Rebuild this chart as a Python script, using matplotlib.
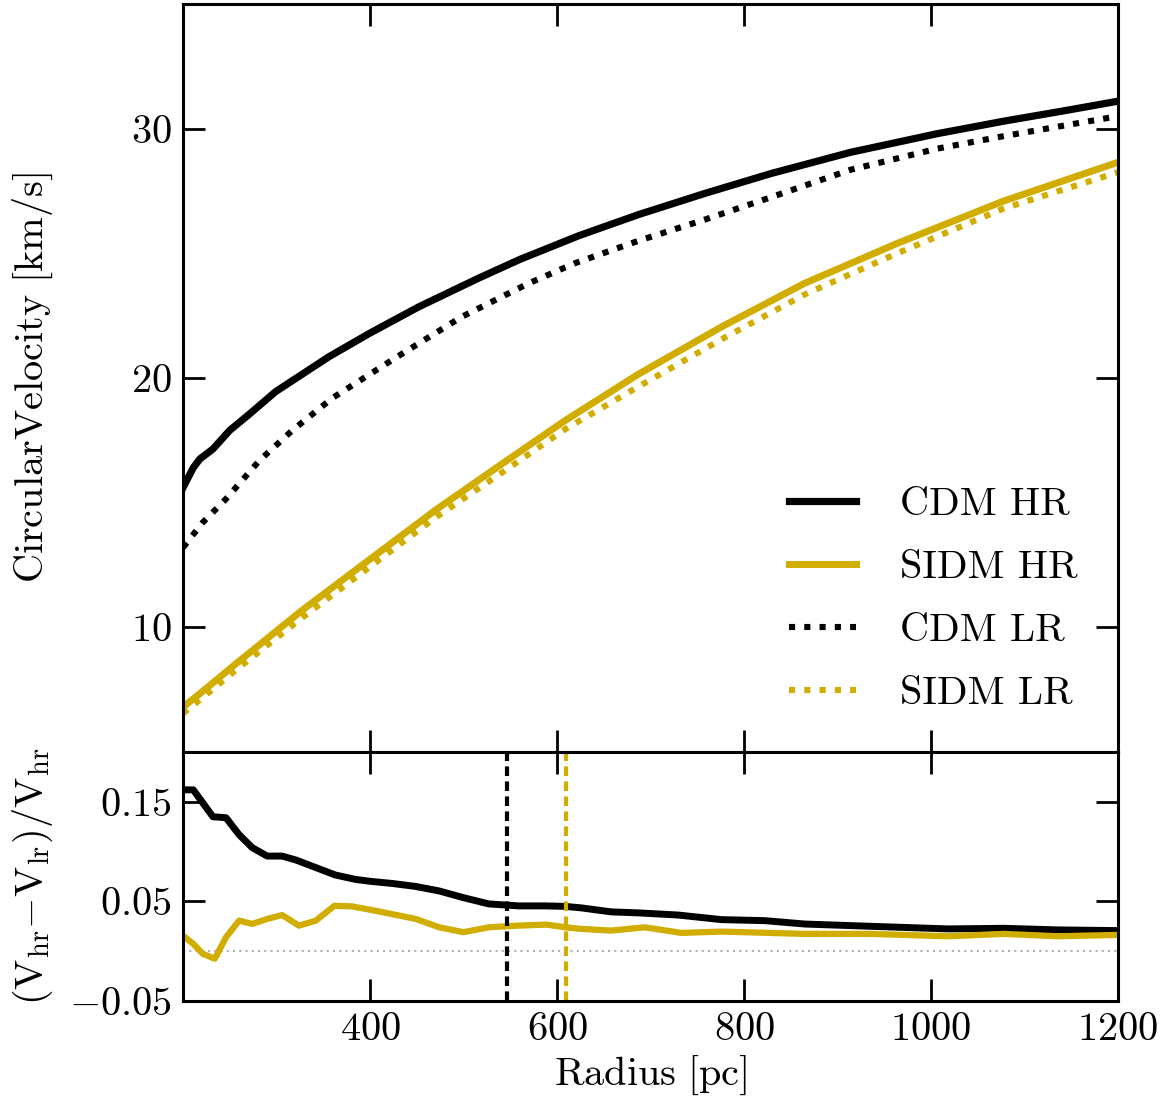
import matplotlib
matplotlib.use('Agg')
import matplotlib.pyplot as plt

plt.rcParams['mathtext.fontset'] = 'cm'
plt.rcParams['font.family'] = 'serif'
plt.rcParams['font.serif'] = ['cmr10', 'DejaVu Serif']
plt.rcParams['axes.formatter.use_mathtext'] = True

GOLD = '#D1AD00'

# circular velocity curves [km/s] vs radius [pc]
r_cdm_hr = [200, 211, 218, 232, 250, 271, 299, 356, 400, 452, 516, 560, 623, 687, 758, 829, 914, 1007, 1078, 1140, 1200]
v_cdm_hr = [15.6, 16.4, 16.75, 17.15, 17.9, 18.55, 19.45, 20.85, 21.8, 22.85, 24.0, 24.75, 25.7, 26.55, 27.4, 28.2, 29.05, 29.8, 30.3, 30.7, 31.1]

r_cdm_lr = [200, 221, 246, 282, 317, 360, 427, 498, 570, 619, 687, 758, 829, 914, 1007, 1078, 1200]
v_cdm_lr = [13.2, 14.2, 15.15, 16.7, 17.9, 19.2, 20.8, 22.45, 23.8, 24.6, 25.5, 26.35, 27.25, 28.35, 29.2, 29.7, 30.5]

r_sidm = [200, 220, 257, 328, 399, 470, 541, 609, 687, 776, 865, 964, 1078, 1200]
v_sidm_hr = [6.8, 7.4, 8.55, 10.7, 12.7, 14.7, 16.55, 18.3, 20.15, 22.05, 23.8, 25.4, 27.1, 28.65]
v_sidm_lr = [6.55, 7.15, 8.3, 10.4, 12.4, 14.4, 16.2, 17.95, 19.65, 21.55, 23.35, 25.0, 26.8, 28.25]

# relative difference (V_hr - V_lr) / V_hr
r_res_cdm = [200, 211, 232, 246, 260, 274, 290, 306, 321, 342, 363, 385, 402, 424, 449, 474, 499, 527,
             559, 587, 609, 626, 658, 687, 730, 776, 822, 865, 936, 1018, 1078, 1135, 1200]
res_cdm = [0.162, 0.162, 0.135, 0.134, 0.117, 0.104, 0.0955, 0.0955, 0.0915, 0.084, 0.0765, 0.072, 0.070,
           0.068, 0.065, 0.0605, 0.054, 0.0475, 0.0455, 0.0455, 0.045, 0.0435, 0.0395, 0.0385, 0.0363,
           0.0317, 0.0307, 0.0273, 0.025, 0.0224, 0.023, 0.0214, 0.0207]

r_res_sidm = [200, 211, 221, 234, 246, 260, 274, 290, 306, 324, 342, 362, 381, 406, 449, 474, 500, 527,
              559, 589, 609, 626, 658, 694, 733, 776, 865, 936, 1018, 1078, 1135, 1200]
res_sidm = [0.0157, 0.0074, -0.0025, -0.0075, 0.014, 0.0307, 0.0274, 0.0324, 0.0363, 0.0257, 0.0307,
            0.0456, 0.045, 0.0406, 0.0324, 0.024, 0.0191, 0.024, 0.0257, 0.0267, 0.024, 0.0224, 0.0207,
            0.024, 0.0184, 0.0197, 0.0174, 0.0174, 0.015, 0.0174, 0.015, 0.0164]

# resolution limits [pc]
rconv_cdm = 547
rconv_sidm = 610

xticks = [400, 600, 800, 1000, 1200]
yticks_top = [10, 20, 30]
yticks_res = [-0.05, 0.05, 0.15]
yticklabels_res = [r'$-0.05$', r'$0.05$', r'$0.15$']

fig = plt.figure(figsize=(11.7, 11.01), dpi=100)
ax1 = fig.add_axes([0.1564, 0.3170, 0.7991, 0.6794])
ax2 = fig.add_axes([0.1564, 0.0908, 0.7991, 0.2262])

dot = (0, (1, 1.5))
ax1.plot(r_cdm_hr, v_cdm_hr, color='black', lw=5.2, label='CDM HR')
ax1.plot(r_sidm, v_sidm_hr, color=GOLD, lw=5, label='SIDM HR')
ax1.plot(r_cdm_lr, v_cdm_lr, color='black', lw=4.4, ls=dot, label='CDM LR')
ax1.plot(r_sidm, v_sidm_lr, color=GOLD, lw=4.4, ls=dot, label='SIDM LR')

ax2.axhline(0, color='#b0b0b0', lw=1.5, ls=(0, (1, 2)))
ax2.plot(r_res_cdm, res_cdm, color='black', lw=5)
ax2.plot(r_res_sidm, res_sidm, color=GOLD, lw=4.5)
ax2.axvline(rconv_cdm, color='black', lw=3, ls=(0, (2.3, 1.3)))
ax2.axvline(rconv_sidm, color=GOLD, lw=3, ls=(0, (2.3, 1.3)))

for ax in (ax1, ax2):
    ax.set_xlim(200, 1200)
    ax.set_xticks(xticks)
    ax.tick_params(direction='in', length=16, width=2, labelsize=29, pad=8,
                   top=True, right=True)
    for s in ax.spines.values():
        s.set_linewidth(2.2)

ax1.set_ylim(5, 35)
ax1.set_yticks(yticks_top)
ax1.set_yticklabels([r'$%d$' % t for t in yticks_top])
ax1.tick_params(labelbottom=False)
ax1.set_ylabel(r'$\mathrm{Circular Velocity\ [km/s]}$', fontsize=29)
ax1.yaxis.set_label_coords(-0.137, 0.5)

ax2.set_ylim(-0.05, 0.2)
ax2.set_yticks(yticks_res)
ax2.set_yticklabels(yticklabels_res)
ax2.set_xticklabels([r'$%d$' % t for t in xticks])
ax2.set_ylabel(r'$(\mathrm{V}_\mathrm{hr}{-}\mathrm{V}_\mathrm{lr})/\mathrm{V}_\mathrm{hr}$', fontsize=29)
ax2.yaxis.set_label_coords(-0.137, 0.5)
ax2.set_xlabel(r'$\mathrm{Radius\ [pc]}$', fontsize=29, labelpad=4)

ax1.legend(loc='lower right', frameon=False, fontsize=29, handlelength=1.65,
           handletextpad=1.1, labelspacing=0.66, borderaxespad=0.6)

fig.savefig('out.png', dpi=100)
